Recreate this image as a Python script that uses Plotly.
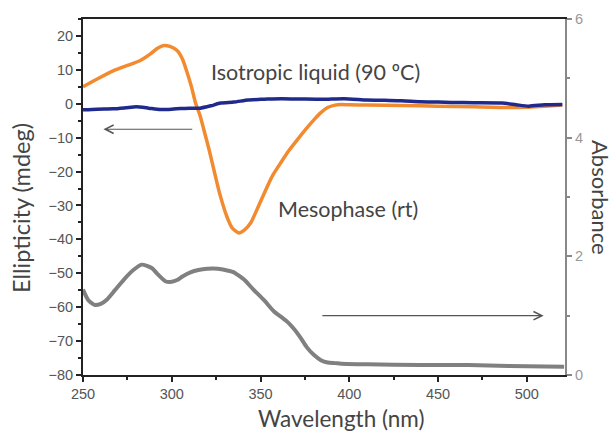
import plotly.graph_objects as go

# Mesophase (rt) CD, left axis (mdeg)
meso_wl = [250, 258, 267, 275, 282, 288, 292, 295.5, 299, 303, 306, 308.6, 311, 313.3, 316, 318, 321, 323.7, 327, 331, 334, 337.8, 341, 344.5, 349, 353.9, 357, 361.4, 366, 370.9, 376, 380.3, 384, 387.8, 392, 395.4, 400, 410, 430, 450, 470, 490, 500, 510, 520]
meso_cd = [5.0, 7.3, 9.7, 11.3, 12.7, 14.7, 16.4, 17.2, 16.9, 15.7, 13.2, 9.3, 5.2, 0.4, -3.6, -7.5, -13.5, -19.4, -26.5, -33.2, -36.6, -38.1, -37.2, -35.1, -30.0, -24.3, -21.0, -17.4, -13.8, -10.5, -7.2, -4.6, -2.6, -1.1, -0.4, -0.2, -0.3, -0.4, -0.5, -0.7, -0.9, -1.1, -1.0, -0.7, -0.4]

# Isotropic liquid (90 C) CD, left axis (mdeg)
iso_wl = [250, 258, 267, 274, 280, 287, 293.5, 300, 305, 310, 316, 322, 327.5, 335, 343, 350, 354, 362, 373, 385, 397, 410, 420, 429.6, 440, 450, 457.6, 470, 486, 494, 501, 510, 520]
iso_cd = [-1.8, -1.6, -1.5, -1.2, -0.9, -1.3, -1.7, -1.6, -1.4, -1.3, -1.3, -0.6, 0.2, 0.5, 1.1, 1.3, 1.4, 1.5, 1.4, 1.3, 1.5, 1.1, 1.0, 0.9, 0.6, 0.5, 0.4, 0.3, 0.2, -0.3, -0.7, -0.3, -0.2]

# Absorbance, right axis
abs_wl = [250, 253, 256.8, 260, 263.4, 268, 272.8, 278, 283, 288.9, 292, 296.4, 300, 303, 306, 310.5, 315, 320, 326, 331.2, 335, 337, 341, 346, 352, 357.6, 362, 365, 369, 372.7, 376, 380, 384, 387.8, 392, 395.4, 410, 440, 467, 490, 521]
abs_val = [1.44, 1.26, 1.18, 1.20, 1.27, 1.43, 1.60, 1.76, 1.86, 1.80, 1.70, 1.58, 1.57, 1.60, 1.66, 1.73, 1.77, 1.79, 1.79, 1.76, 1.73, 1.69, 1.60, 1.44, 1.26, 1.07, 0.97, 0.90, 0.77, 0.62, 0.47, 0.34, 0.25, 0.21, 0.20, 0.19, 0.18, 0.17, 0.17, 0.15, 0.14]

# Arrows (tail -> head) in data units
left_arrow_x = [312.4, 261.5]
left_arrow_y = [-7.5, -7.5]
right_arrow_x = [384, 509.5]
right_arrow_y = [-62.5, -62.5]

# Labels
label_iso = "Isotropic liquid (90 ºC)"
label_iso_pos = (381, 9.5)
label_meso = "Mesophase (rt)"
label_meso_pos = (399, -31)

x_title = "Wavelength (nm)"
y_title = "Ellipticity (mdeg)"
y2_title = "Absorbance"

x_ticks = [250, 300, 350, 400, 450, 500]
y_ticks = list(range(-80, 21, 10))
y2_ticks = [0, 2, 4, 6]

tick_font = dict(family="Liberation Sans, Arial, sans-serif", size=14.5, color="#555555")
xtitle_font = dict(family="Lato, Open Sans, sans-serif", size=22.5, color="#444444")
ytitle_font = dict(family="Lato, Open Sans, sans-serif", size=23.5, color="#444444")
label_font = dict(family="Lato, Open Sans, sans-serif", size=21.5, color="#444444")
y2title_font = dict(family="Lato, Open Sans, sans-serif", size=22, color="#444444")

fig = go.Figure()
fig.add_trace(go.Scatter(x=abs_wl, y=abs_val, yaxis="y2", mode="lines",
                         line=dict(color="#808080", width=4, shape="spline", smoothing=0.6),
                         showlegend=False, hoverinfo="skip"))
fig.add_trace(go.Scatter(x=meso_wl, y=meso_cd, mode="lines",
                         line=dict(color="#F28A30", width=3.5, shape="spline", smoothing=0.6),
                         showlegend=False))
fig.add_trace(go.Scatter(x=iso_wl, y=iso_cd, mode="lines",
                         line=dict(color="#1F2A8C", width=3.5, shape="spline", smoothing=0.6),
                         showlegend=False))

for ax, ay in [(left_arrow_x, left_arrow_y), (right_arrow_x, right_arrow_y)]:
    fig.add_annotation(x=ax[1], y=ay[1], ax=ax[0], ay=ay[0], xref="x", yref="y",
                       axref="x", ayref="y", showarrow=True, arrowhead=5,
                       arrowsize=1.5, arrowwidth=1.1, arrowcolor="#555555", text="")

fig.add_annotation(x=label_iso_pos[0], y=label_iso_pos[1], text=label_iso, showarrow=False,
                   font=label_font)
fig.add_annotation(x=label_meso_pos[0], y=label_meso_pos[1], text=label_meso, showarrow=False,
                   font=label_font)
# Axis titles as annotations (placed like the original)
fig.add_annotation(x=1.0, y=0.5, xref="paper", yref="paper", xanchor="center", xshift=36,
                   text=y2_title, textangle=90, showarrow=False, font=y2title_font)
fig.add_annotation(x=0.0, y=0.469, xref="paper", yref="paper", xanchor="center", yanchor="middle",
                   xshift=-62, text=y_title, textangle=-90, showarrow=False, font=ytitle_font)
fig.add_annotation(x=0.535, y=0.0, xref="paper", yref="paper", xanchor="center", yanchor="middle",
                   yshift=-43, text=x_title, showarrow=False, font=xtitle_font)

fig.update_layout(
    width=613, height=433,
    margin=dict(l=83, r=48, t=19, b=58),
    plot_bgcolor="white", paper_bgcolor="white",
    xaxis=dict(range=[250, 521.5], tickvals=x_ticks, ticks="outside", ticklen=5, tickwidth=2,
               tickcolor="#222", showline=True, linecolor="#222", linewidth=2, mirror=True,
               showgrid=False, zeroline=False, tickfont=tick_font,
               minor=dict(dtick=25, tick0=250, ticks="outside", ticklen=3, tickwidth=2, tickcolor="#222")),
    yaxis=dict(range=[-80, 25], tickvals=y_ticks, ticks="outside", ticklen=5, tickwidth=2,
               tickcolor="#222", showline=True, linecolor="#222", linewidth=2,
               showgrid=False, zeroline=False, tickfont=tick_font,
               minor=dict(dtick=5, tick0=0, ticks="outside", ticklen=3, tickwidth=2, tickcolor="#222")),
    yaxis2=dict(range=[0, 6], overlaying="y", side="right", tickvals=y2_ticks, ticks="outside",
                ticklen=5, tickwidth=1.5, tickcolor="#888", showline=True, linecolor="#888",
                linewidth=2, showgrid=False, zeroline=False,
                tickfont=dict(family="Liberation Sans, Arial, sans-serif", size=14.5, color="#999999"),
                minor=dict(dtick=1, tick0=0, ticks="outside", ticklen=3, tickwidth=1.5, tickcolor="#888")),
)

fig.write_html("out.html", config={"displayModeBar": False},
               post_script="document.body.style.margin='0';")
